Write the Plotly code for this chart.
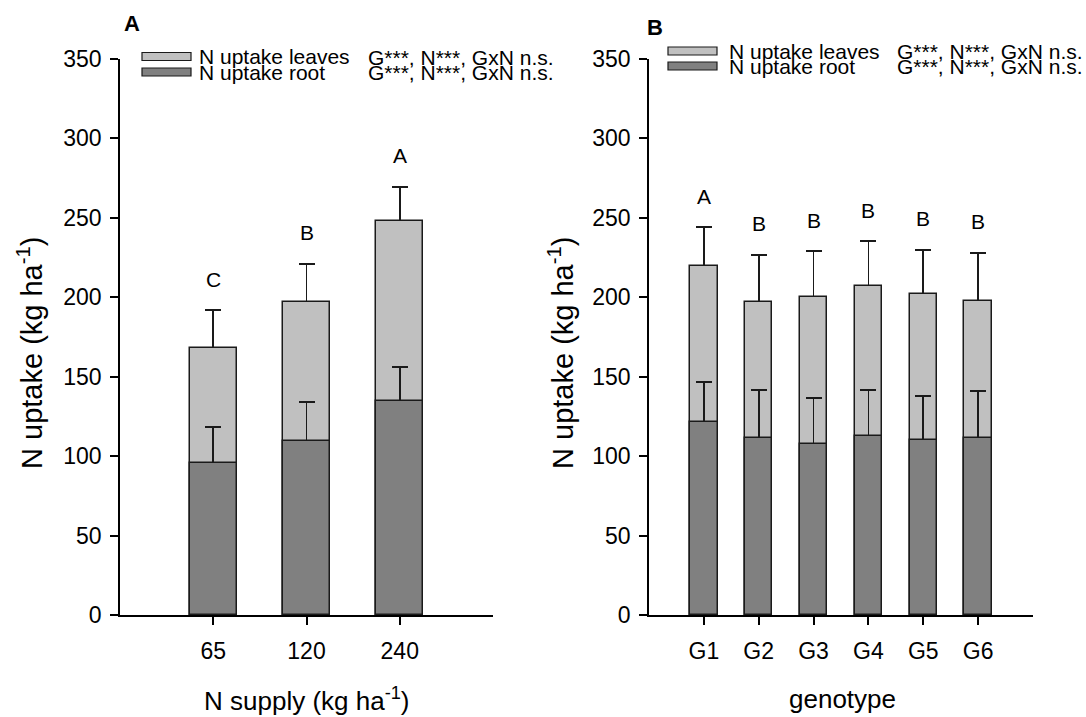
import plotly.graph_objects as go

# ---------------- data ----------------
supply_cats = ["65", "120", "240"]
supply_root = [95.5, 109.7, 134.9]
supply_leaves = [72.8, 87.1, 113.3]
supply_root_err = [22.8, 24.6, 21.0]
supply_total_err = [23.5, 24.3, 21.4]
supply_letters = ["C", "B", "A"]

geno_cats = ["G1", "G2", "G3", "G4", "G5", "G6"]
geno_root = [121.5, 111.2, 107.6, 112.9, 110.4, 111.2]
geno_leaves = [98.4, 85.8, 92.6, 94.2, 91.5, 86.7]
geno_root_err = [25.2, 30.4, 29.0, 28.7, 27.5, 30.0]
geno_total_err = [24.3, 29.8, 28.9, 28.3, 27.9, 30.0]
geno_letters = ["A", "B", "B", "B", "B", "B"]

legend_names = ["N uptake leaves", "N uptake root"]
stats_text = ["G***, N***, GxN n.s.", "G***, N***, GxN n.s."]
y_ticks = [0, 50, 100, 150, 200, 250, 300, 350]

# ---------------- styling ----------------
W, H = 1086, 717
FONT = "Liberation Sans, Arial, sans-serif"
LEAF_C = "#c0c0c0"
ROOT_C = "#808080"
EDGE = "#1a1a1a"
CLEAR = "rgba(0,0,0,0)"

def px(x):
    return x / W

def py(y):
    return 1 - y / H

fig = go.Figure()

def err_trace(cats, base_vals, errs, xa, ya):
    # invisible bar carrying a symmetric error bar; the lower half is hidden
    # by the opaque bar drawn on top of it
    return go.Bar(
        x=cats, y=base_vals, width=0.5, xaxis=xa, yaxis=ya,
        marker=dict(color=CLEAR, line=dict(color=CLEAR, width=0)),
        error_y=dict(type="data", array=errs, symmetric=True,
                     color=EDGE, thickness=1.8, width=8),
        showlegend=False, hoverinfo="skip")

def add_panel(cats, root, leaves, root_err, tot_err, xa, ya):
    total = [r + l for r, l in zip(root, leaves)]
    fig.add_trace(err_trace(cats, total, tot_err, xa, ya))
    fig.add_trace(go.Bar(
        x=cats, y=total, width=0.5, xaxis=xa, yaxis=ya,
        marker=dict(color=LEAF_C, line=dict(color=EDGE, width=1.5)),
        showlegend=False, name=legend_names[0]))
    fig.add_trace(err_trace(cats, root, root_err, xa, ya))
    fig.add_trace(go.Bar(
        x=cats, y=root, width=0.5, xaxis=xa, yaxis=ya,
        marker=dict(color=ROOT_C, line=dict(color=EDGE, width=1.5)),
        showlegend=False, name=legend_names[1]))
    return total

totA = add_panel(supply_cats, supply_root, supply_leaves, supply_root_err,
                 supply_total_err, "x", "y")
totB = add_panel(geno_cats, geno_root, geno_leaves, geno_root_err,
                 geno_total_err, "x2", "y2")

annotations = []
LETTER_GAP = 11
for cats, tot, err, letters, xr, yr in [
        (supply_cats, totA, supply_total_err, supply_letters, "x", "y"),
        (geno_cats, totB, geno_total_err, geno_letters, "x2", "y2")]:
    for i, (t, e, L) in enumerate(zip(tot, err, letters)):
        annotations.append(dict(x=i, y=t + e + LETTER_GAP, xref=xr, yref=yr,
                                text=L, showarrow=False, yanchor="bottom",
                                font=dict(size=21, color="black", family=FONT)))

axis_common = dict(showline=True, linecolor="black", linewidth=1.5,
                   ticks="outside", ticklen=8, tickwidth=1.5, tickcolor="black",
                   showgrid=False, zeroline=False, automargin=False,
                   tickfont=dict(size=23, color="black", family=FONT))

yA_dom = [py(615), py(59)]
fig.update_layout(
    width=W, height=H,
    margin=dict(l=0, r=0, t=0, b=0, autoexpand=False),
    plot_bgcolor="white", paper_bgcolor="white",
    barmode="overlay", bargap=0, showlegend=False,
    xaxis=dict(domain=[px(120), px(493)], range=[-1, 3], type="category",
               anchor="y", ticklabelstandoff=7, **axis_common),
    yaxis=dict(domain=yA_dom, range=[0, 350], tickvals=y_ticks, anchor="x",
               ticklabelstandoff=4, **axis_common),
    xaxis2=dict(domain=[px(649), px(1033)], range=[-1, 6], type="category",
                anchor="y2", ticklabelstandoff=7, **axis_common),
    yaxis2=dict(domain=yA_dom, range=[0, 350], tickvals=y_ticks, anchor="x2",
                ticklabelstandoff=4, **axis_common),
    font=dict(family=FONT, color="black"),
)

def paper_text(x, y, text, size, **kw):
    d = dict(x=px(x), y=py(y), xref="paper", yref="paper", showarrow=False,
             xanchor="center", yanchor="middle", text=text,
             font=dict(size=size, family=FONT, color="black"))
    d.update(kw)
    return d

# axis titles and panel letters
annotations += [
    paper_text(307, 699, "N supply (kg ha<sup>-1</sup>)", 26),
    paper_text(842, 699, "genotype", 26),
    paper_text(30, 353, "N uptake (kg ha<sup>-1</sup>)", 29, textangle=-90),
    paper_text(561, 353, "N uptake (kg ha<sup>-1</sup>)", 29, textangle=-90),
    paper_text(132, 24, "<b>A</b>", 22),
    paper_text(655, 27, "<b>B</b>", 22),
]

# manual legends
shapes = []
legend_specs = [
    # box_x0, box_x1, row centres, text x, stats right x, stats row centres
    (142, 191, [56.5, 72], 197, 556, [57, 73]),
    (668, 717, [51, 66], 727, 1085, [51, 67]),
]
for bx0, bx1, rows, tx, sx, srows in legend_specs:
    for i, (cy, color) in enumerate(zip(rows, [LEAF_C, ROOT_C])):
        shapes.append(dict(type="rect", xref="paper", yref="paper",
                           x0=px(bx0), x1=px(bx1), y0=py(cy + 4), y1=py(cy - 4),
                           fillcolor=color, line=dict(color=EDGE, width=1.2)))
        annotations.append(paper_text(tx, cy, legend_names[i], 21,
                                      xanchor="left"))
        annotations.append(paper_text(sx, srows[i], stats_text[i], 21,
                                      xanchor="right"))

fig.update_layout(annotations=annotations, shapes=shapes)
fig.write_html("out.html")
